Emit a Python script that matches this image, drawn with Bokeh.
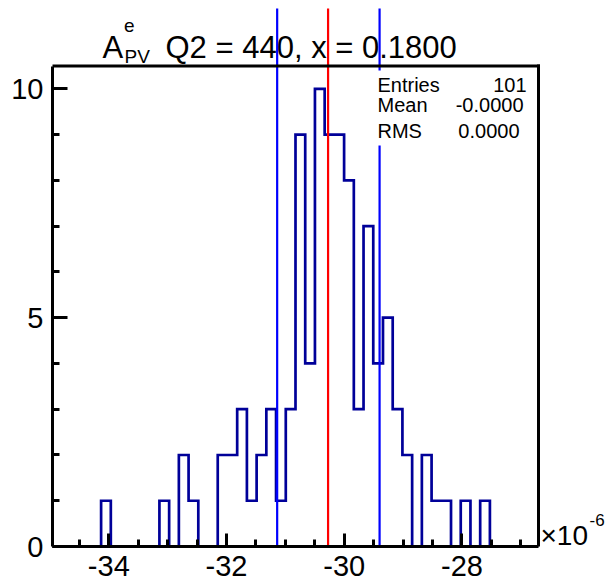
import numpy as np
from bokeh.plotting import figure
from bokeh.models import Label, SingleIntervalTicker, Range1d, PrintfTickFormatter
from bokeh.embed import file_html
from bokeh.resources import INLINE

# ---------------- data (x in units of 1e-6) ----------------
bin_counts = [0, 0, 0, 0, 0, 1, 0, 0, 0, 0,
              0, 1, 0, 2, 1, 0, 0, 2, 2, 3,
              1, 2, 3, 1, 3, 9, 4, 10, 9, 9,
              8, 3, 7, 4, 5, 3, 2, 0, 2, 1,
              1, 0, 1, 0, 1, 0, 0, 0, 0, 0]
x_low = -34.957
x_high = -26.70
mean_value = -30.275
band_low = -31.14
band_high = -29.40
stat_names = ["Entries", "Mean", "RMS"]
stat_values = ["101", "-0.0000", "0.0000"]
title_main = "Q2 = 440, x = 0.1800"
title_sym = "A"
title_sup = "e"
title_sub = "PV"
exponent_base = "\u00d710"
exponent_power = "-6"

# ---------------- layout ----------------
W, H = 609, 584
FL, FR_HIST, FT, FB = 52, 538, 5, 546
hist_top = 1.05 * max(bin_counts)
Y_TOP = hist_top * (FB - FT) / (FB - 65.5)
PPX = (FR_HIST - FL) / (x_high - x_low)
x_view_end = x_low + (W - FL) / PPX
FONT = "Liberation Sans"
TEXT_SHIFT = 8


def dx(px):
    return x_low + (px - FL) / PPX


def dy(py):
    return (FB - py) * Y_TOP / (FB - FT)


p = figure(width=W, height=H, output_backend="svg", toolbar_location=None,
           x_range=Range1d(x_low, x_view_end), y_range=Range1d(0, Y_TOP),
           min_border_left=FL, min_border_right=0, min_border_top=FT,
           min_border_bottom=H - FB)
p.outline_line_color = None
p.grid.visible = False
p.background_fill_color = "white"
p.border_fill_color = "white"

# histogram outline
edges = np.linspace(x_low, x_high, len(bin_counts) + 1)
hx, hy = [edges[0]], [0]
for i, c in enumerate(bin_counts):
    hx += [edges[i], edges[i + 1]]
    hy += [c, c]
hx.append(edges[-1])
hy.append(0)
p.line(hx, hy, line_color="#000099", line_width=2.7, line_join="miter")

# mean and +- lines
line_top = dy(8)
p.segment(x0=[band_low, band_high], x1=[band_low, band_high], y0=0, y1=line_top,
          line_color="#0000ff", line_width=2.2)
p.segment(x0=[mean_value], x1=[mean_value], y0=0, y1=line_top,
          line_color="#ff0000", line_width=2.2)

# stats box (white, covers the line)
p.quad(left=[dx(372)], right=[x_high], bottom=[dy(145)], top=[dy(70)],
       fill_color="white", line_color=None)

# frame: top and right edges
p.segment(x0=[x_low, x_high], x1=[x_high, x_high], y0=[hist_top, 0], y1=[hist_top, hist_top],
          line_color="black", line_width=3, line_cap="square")

# axes
xa = p.xaxis[0]
xa.ticker = SingleIntervalTicker(interval=2, num_minor_ticks=4)
xa.formatter = PrintfTickFormatter(format="%d")
xa.bounds = (x_low, x_high)
xa.major_tick_in = 13
xa.major_tick_out = 0
xa.minor_tick_in = 7
xa.minor_tick_out = 0
xa.axis_line_width = 3
xa.major_tick_line_width = 3
xa.minor_tick_line_width = 3
xa.major_label_text_font = FONT
xa.major_label_text_font_size = "29px"
xa.major_label_text_color = "black"
xa.major_label_standoff = 9

ya = p.yaxis[0]
ya.ticker = SingleIntervalTicker(interval=5, num_minor_ticks=5)
ya.bounds = (0, hist_top)
ya.major_tick_in = 15
ya.major_tick_out = 0
ya.minor_tick_in = 7
ya.minor_tick_out = 0
ya.axis_line_width = 3
ya.major_tick_line_width = 3
ya.minor_tick_line_width = 3
ya.major_label_text_font = FONT
ya.major_label_text_font_size = "29px"
ya.major_label_text_color = "black"
ya.major_label_standoff = 9


def lab(px, py, text, size, align="left", level="annotation"):
    p.add_layout(Label(x=dx(px), y=dy(py - TEXT_SHIFT), text=text, text_font=FONT,
                       text_font_size=size, text_color="black", text_align=align,
                       text_baseline="alphabetic", level=level))


# title
lab(102, 55, title_sym, "31px", level="underlay")
lab(123.5, 33, title_sup, "19px", level="underlay")
lab(124, 64, title_sub, "19px", level="underlay")
lab(165, 55, title_main, "31px", level="underlay")

# stats text
name_y = [92, 112, 138]
val_x = [526, 523, 519]
for nm, vv, yy, xx in zip(stat_names, stat_values, name_y, val_x):
    lab(377, yy, nm, "20px")
    lab(xx, yy, vv, "20px", align="right")

# exponent
lab(540, 543, exponent_base, "28px")
lab(589, 527, exponent_power, "17px")

open("out.html", "w").write(file_html(p, INLINE))
